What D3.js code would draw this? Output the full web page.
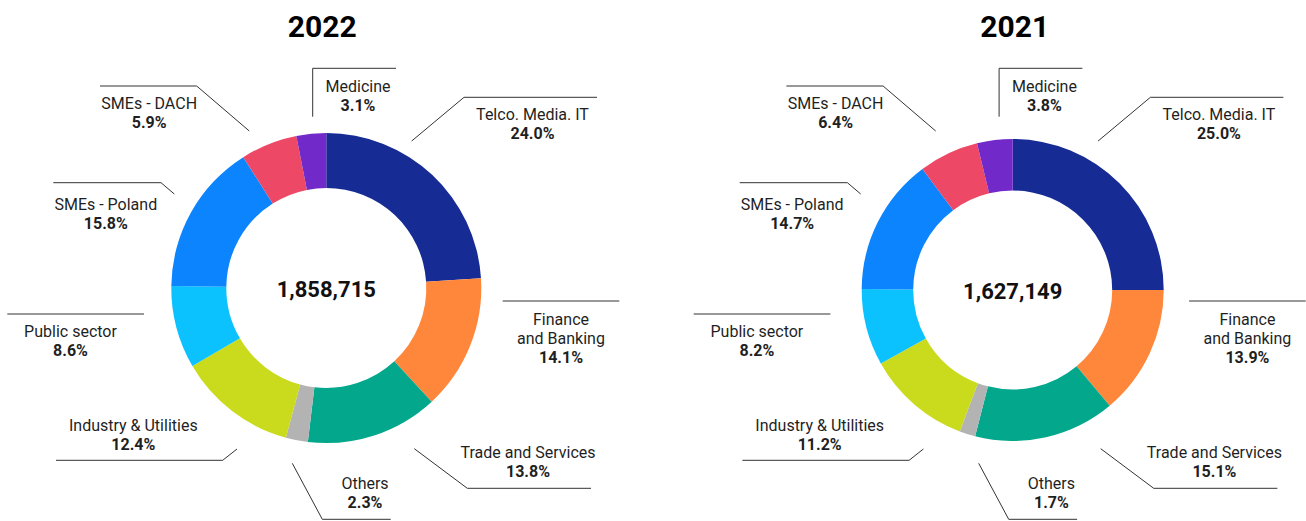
<!DOCTYPE html>
<html>
<head>
<meta charset="utf-8">
<script src="https://cdn.jsdelivr.net/npm/d3@7"></script>
<style>
  body { margin: 0; background: #fff; }
  text { font-family: Roboto, "Noto Sans", sans-serif; fill: #1f1f1f; }
</style>
</head>
<body>
<div id="canvas"></div>
<script>
var width = 1306,
	height = 521;

// data
var years = ["2022", "2021"];
var totals = [1858715, 1627149];
var categories = ["Telco. Media. IT", "Finance\nand Banking", "Trade and Services", "Others",
	"Industry & Utilities", "Public sector", "SMEs - Poland", "SMEs - DACH", "Medicine"];
var share2022 = [24.0, 14.1, 13.8, 2.3, 12.4, 8.6, 15.8, 5.9, 3.1];
var share2021 = [25.0, 13.9, 15.1, 1.7, 11.2, 8.2, 14.7, 6.4, 3.8];
var colors = ["#162B93", "#FF873B", "#03A78C", "#B3B3B3", "#CADB1D",
	"#0BC1FE", "#0B84FE", "#EE4867", "#7229C9"];

// layout of each donut
var charts = [
	{ year: years[0], total: totals[0], values: share2022, cx: 326.3, cy: 288, outer: 155, inner: 100, titleDx: -4 },
	{ year: years[1], total: totals[1], values: share2021, cx: 1012.7, cy: 290, outer: 151, inner: 99.5, titleDx: 2 }
];

// label callouts, x relative to donut centre, y absolute
var callouts = [
	{ pts: [[85.4, 141], [137.7, 97.3], [270.7, 97.3]], tx: 206.2, ty: 120 },
	{ pts: [[176.4, 301], [293, 301]], tx: 234.7, ty: 325 },
	{ pts: [[88, 448.7], [141, 488.3], [264.7, 488.3]], tx: 201.7, ty: 457.7 },
	{ pts: [[-34, 463.3], [-4, 519.3], [64.4, 519.3]], tx: 38.7, ty: 489 },
	{ pts: [[-89.3, 449], [-103.6, 460.3], [-270.3, 460.3]], tx: -193, ty: 430.7 },
	{ pts: [[-182.3, 314], [-319, 314]], tx: -255.8, ty: 336.7 },
	{ pts: [[-152, 194], [-165.3, 182.7], [-273, 182.7]], tx: -220.5, ty: 210 },
	{ pts: [[-77, 131], [-129.6, 86], [-226.3, 86]], tx: -177.1, ty: 109 },
	{ pts: [[-13.6, 116.7], [-13.6, 68.3], [69.7, 68.3]], tx: 31.7, ty: 92.3 }
];
var lineGap = 19;

var fmtPct = d3.format(".1f"),
	fmtTotal = d3.format(",");

var svg = d3.select("#canvas")
	.append("svg")
		.attr("width", width)
		.attr("height", height)
		.style("background-color", "#fff");

var pie = d3.pie().sort(null).value(function(d){ return d; });
var line = d3.line();

charts.forEach(function(chart){
	var g = svg.append("g");

	var arc = d3.arc()
		.innerRadius(chart.inner)
		.outerRadius(chart.outer);

	g.append("text")
		.attr("x", chart.cx + chart.titleDx)
		.attr("y", 36.7)
		.attr("text-anchor", "middle")
		.style("font-size", "30px")
		.style("font-weight", "700")
		.style("fill", "#000")
		.text(chart.year);

	g.append("g")
		.attr("transform", "translate(" + chart.cx + "," + chart.cy + ")")
		.selectAll("path")
		.data(pie(chart.values))
		.enter()
		.append("path")
			.attr("d", arc)
			.attr("fill", function(d, i){ return colors[i]; });

	g.append("text")
		.attr("x", chart.cx)
		.attr("y", chart.cy + 8.5)
		.attr("text-anchor", "middle")
		.style("font-size", "22px")
		.style("font-weight", "700")
		.style("fill", "#111")
		.text(fmtTotal(chart.total));

	var labels = g.selectAll(".label")
		.data(chart.values)
		.enter()
		.append("g")
			.classed("label", true);

	labels.append("path")
		.attr("d", function(d, i){
			return line(callouts[i].pts.map(function(p){ return [chart.cx + p[0], p[1]]; }));
		})
		.attr("fill", "none")
		.attr("stroke", "#333")
		.attr("stroke-width", 1);

	labels.each(function(d, i){
		var c = callouts[i];
		var rows = categories[i].split("\n");
		var t = d3.select(this).append("text")
			.attr("text-anchor", "middle")
			.style("font-size", "16px");
		rows.forEach(function(r, k){
			t.append("tspan")
				.attr("x", chart.cx + c.tx)
				.attr("y", c.ty + k * lineGap)
				.text(r);
		});
		t.append("tspan")
			.attr("x", chart.cx + c.tx)
			.attr("y", c.ty + rows.length * lineGap)
			.style("font-weight", "700")
			.text(fmtPct(d) + "%");
	});
});
</script>
</body>
</html>
